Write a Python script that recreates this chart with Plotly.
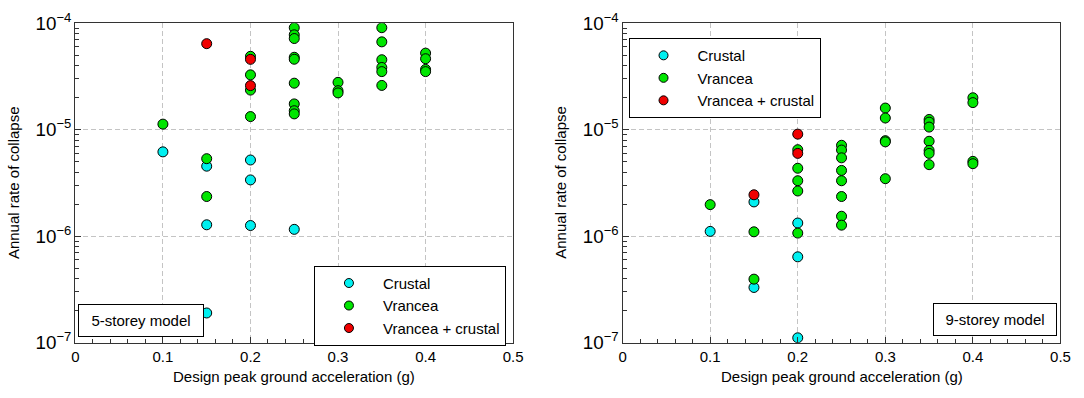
import plotly.graph_objects as go

# ---------------- data ----------------
# 5-storey model
c5_x = [0.10, 0.15, 0.15, 0.15, 0.20, 0.20, 0.20, 0.25]
c5_y = [6.2e-6, 4.55e-6, 1.28e-6, 1.9e-7, 5.2e-6, 3.38e-6, 1.26e-6, 1.16e-6]

v5_x = [0.10, 0.15, 0.15,
        0.20, 0.20, 0.20, 0.20,
        0.25, 0.25, 0.25, 0.25, 0.25, 0.25, 0.25, 0.25, 0.25,
        0.30, 0.30, 0.30,
        0.35, 0.35, 0.35, 0.35, 0.35, 0.35,
        0.40, 0.40, 0.40, 0.40]
v5_y = [1.13e-5, 5.35e-6, 2.36e-6,
        4.9e-5, 3.28e-5, 2.36e-5, 1.33e-5,
        9.1e-5, 7.8e-5, 7.2e-5, 4.8e-5, 4.6e-5, 2.74e-5, 1.75e-5, 1.51e-5, 1.41e-5,
        2.79e-5, 2.33e-5, 2.22e-5,
        9.1e-5, 6.7e-5, 4.55e-5, 3.85e-5, 3.52e-5, 2.61e-5,
        5.25e-5, 4.65e-5, 3.69e-5, 3.52e-5]

r5_x = [0.15, 0.20, 0.20]
r5_y = [6.44e-5, 4.59e-5, 2.6e-5]

# 9-storey model
c9_x = [0.10, 0.15, 0.15, 0.20, 0.20, 0.20]
c9_y = [1.11e-6, 2.1e-6, 3.3e-7, 1.33e-6, 6.4e-7, 1.11e-7]

v9_x = [0.10, 0.15, 0.15,
        0.20, 0.20, 0.20, 0.20, 0.20,
        0.25, 0.25, 0.25, 0.25, 0.25, 0.25, 0.25, 0.25,
        0.30, 0.30, 0.30, 0.30, 0.30,
        0.35, 0.35, 0.35, 0.35, 0.35, 0.35, 0.35,
        0.40, 0.40, 0.40, 0.40]
v9_y = [1.98e-6, 1.1e-6, 3.95e-7,
        6.5e-6, 4.35e-6, 3.32e-6, 2.66e-6, 1.07e-6,
        7.15e-6, 6.45e-6, 5.45e-6, 4.15e-6, 3.32e-6, 2.36e-6, 1.54e-6, 1.27e-6,
        1.6e-5, 1.29e-5, 7.9e-6, 7.7e-6, 3.47e-6,
        1.25e-5, 1.18e-5, 1.06e-5, 7.8e-6, 6.4e-6, 6.0e-6, 4.7e-6,
        2.0e-5, 1.8e-5, 5.05e-6, 4.8e-6]

r9_x = [0.15, 0.20, 0.20]
r9_y = [2.45e-6, 9.1e-6, 6.0e-6]

series_names = ["Crustal", "Vrancea", "Vrancea + crustal"]
series_colors = ["#00F0F0", "#00E600", "#F00000"]

panel_labels = ["5-storey model", "9-storey model"]
x_title = "Design peak ground acceleration (g)"
y_title = "Annual rate of collapse"

FONT = "Arial, Liberation Sans, sans-serif"

fig = go.Figure()

panels = [
    ("x", "y", "legend", [(c5_x, c5_y), (v5_x, v5_y), (r5_x, r5_y)]),
    ("x2", "y2", "legend2", [(c9_x, c9_y), (v9_x, v9_y), (r9_x, r9_y)]),
]

for xa, ya, lg, data in panels:
    for (xs, ys), name, col in zip(data, series_names, series_colors):
        fig.add_trace(go.Scatter(
            x=xs, y=ys, mode="markers", xaxis=xa, yaxis=ya,
            showlegend=False, hoverinfo="x+y",
            marker=dict(size=10, color=col, line=dict(color="black", width=1)),
        ))
    # legend entries (smaller symbols as in the original)
    for name, col in zip(series_names, series_colors):
        fig.add_trace(go.Scatter(
            x=[None], y=[None], mode="markers", xaxis=xa, yaxis=ya,
            name=name, legend=lg, showlegend=True,
            marker=dict(size=9, color=col, line=dict(color="black", width=1)),
        ))

W, H = 1084, 398
left_dom = [72.3 / W, 515.8 / W]
right_dom = [626.7 / W, 1070.3 / W]
y_dom = [1 - 350.8 / H, 1 - 11.0 / H]

def xaxis(domain, anchor):
    return dict(
        domain=domain, anchor=anchor, range=[0, 0.5], dtick=0.1, tick0=0,
        showgrid=True, gridcolor="#c4c4c4", griddash="5px,3px", gridwidth=1,
        zeroline=False, showline=True, linecolor="#333", linewidth=1, mirror=True,
        ticks="inside", ticklen=6, tickcolor="#333", ticklabeloverflow="allow",
        minor=dict(ticks="inside", ticklen=4, dtick=0.02, tickcolor="#333", showgrid=False),
        tickfont=dict(family=FONT, size=15, color="black"),
    )

def yaxis(anchor):
    return dict(
        domain=y_dom, anchor=anchor, type="log", range=[-7.00001, -3.99999], dtick=1,
        exponentformat="power", showexponent="all", ticklabeloverflow="allow",
        showgrid=True, gridcolor="#c4c4c4", griddash="5px,3px", gridwidth=1,
        zeroline=False, showline=True, linecolor="#333", linewidth=1, mirror=True,
        ticks="inside", ticklen=6, tickcolor="#333",
        minor=dict(ticks="inside", ticklen=4, dtick="D1", tickcolor="#333", showgrid=False),
        tickfont=dict(family=FONT, size=15, color="black"),
    )

legend_common = dict(
    bgcolor="white", bordercolor="black", borderwidth=1,
    font=dict(family=FONT, size=15, color="black"),
    itemwidth=58, xanchor="left", yanchor="top", tracegroupgap=0,
)

annotations = [
    dict(text=panel_labels[0], x=138.9 / W, y=1 - 327.3 / H, xref="paper", yref="paper",
         showarrow=False, xanchor="center", yanchor="middle",
         width=118, height=25, borderpad=3, bgcolor="white",
         bordercolor="black", borderwidth=1, font=dict(family=FONT, size=15, color="black")),
    dict(text=panel_labels[1], x=1003.6 / W, y=1 - 326.5 / H, xref="paper", yref="paper",
         showarrow=False, xanchor="center", yanchor="middle",
         width=116, height=25, borderpad=3, bgcolor="white",
         bordercolor="black", borderwidth=1, font=dict(family=FONT, size=15, color="black")),
    dict(text=x_title, x=294 / W, y=1 - 386.7 / H, xref="paper", yref="paper",
         showarrow=False, xanchor="center", yanchor="middle",
         font=dict(family=FONT, size=15, color="black")),
    dict(text=x_title, x=848.5 / W, y=1 - 386.7 / H, xref="paper", yref="paper",
         showarrow=False, xanchor="center", yanchor="middle",
         font=dict(family=FONT, size=15, color="black")),
    dict(text=y_title, x=9.6 / W, y=1 - 180.5 / H, xref="paper", yref="paper",
         showarrow=False, xanchor="center", yanchor="middle", textangle=-90,
         font=dict(family=FONT, size=15, color="black")),
    dict(text=y_title, x=563.4 / W, y=1 - 180.5 / H, xref="paper", yref="paper",
         showarrow=False, xanchor="center", yanchor="middle", textangle=-90,
         font=dict(family=FONT, size=15, color="black")),
]

fig.update_layout(
    width=W, height=H,
    margin=dict(l=0, r=0, t=0, b=0),
    paper_bgcolor="white", plot_bgcolor="white",
    font=dict(family=FONT, size=15, color="black"),
    xaxis=xaxis(left_dom, "y"),
    yaxis=yaxis("x"),
    xaxis2=xaxis(right_dom, "y2"),
    yaxis2=yaxis("x2"),
    legend=dict(x=314 / W, y=1 - 269 / H, **legend_common),
    legend2=dict(x=632.7 / W, y=1 - 26.7 / H, **legend_common),
    annotations=annotations,
)

fig.write_html("out.html", config={"displayModeBar": False},
               post_script="document.body.style.margin='0px';")
